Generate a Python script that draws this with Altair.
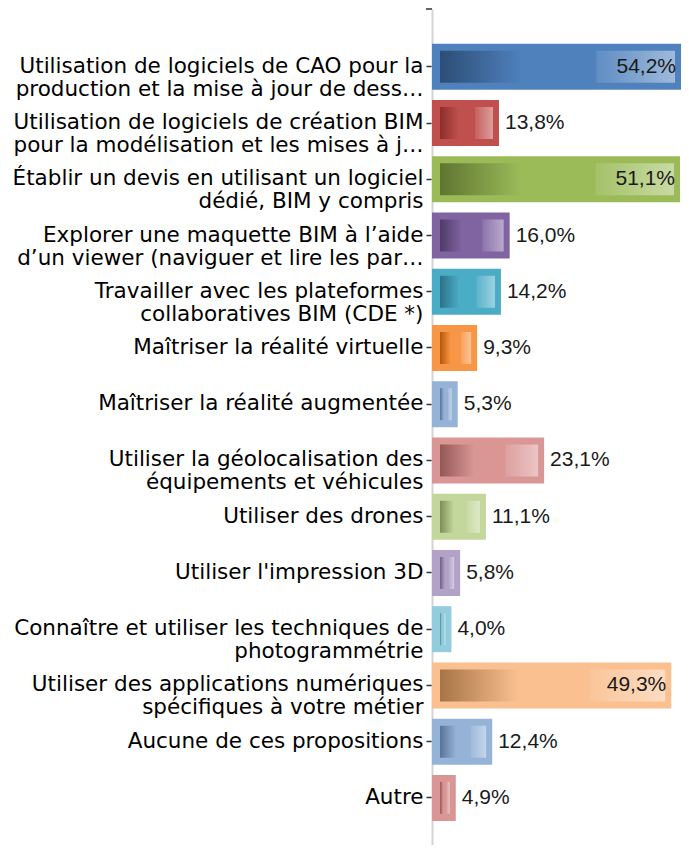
import altair as alt
import pandas as pd

categories = [
    "Utilisation de logiciels de CAO pour la|production et la mise à jour de dess…",
    "Utilisation de logiciels de création BIM|pour la modélisation et les mises à j…",
    "Établir un devis en utilisant un logiciel|dédié, BIM y compris",
    "Explorer une maquette BIM à l’aide|d’un viewer (naviguer et lire les par…",
    "Travailler avec les plateformes|collaboratives BIM (CDE *)",
    "Maîtriser la réalité virtuelle",
    "Maîtriser la réalité augmentée",
    "Utiliser la géolocalisation des|équipements et véhicules",
    "Utiliser des drones",
    "Utiliser l'impression 3D",
    "Connaître et utiliser les techniques de|photogrammétrie",
    "Utiliser des applications numériques|spécifiques à votre métier",
    "Aucune de ces propositions",
    "Autre",
]
values = [54.2, 13.8, 51.1, 16.0, 14.2, 9.3, 5.3, 23.1, 11.1, 5.8, 4.0, 49.3, 12.4, 4.9]
value_labels = ["54,2%", "13,8%", "51,1%", "16,0%", "14,2%", "9,3%", "5,3%",
                "23,1%", "11,1%", "5,8%", "4,0%", "49,3%", "12,4%", "4,9%"]

base_colors = ["#4F81BD", "#C0504D", "#9BBB59", "#8064A2", "#4BACC6", "#F79646", "#95B3D7",
               "#D99694", "#C3D69B", "#B3A2C7", "#93CDDD", "#FAC090", "#95B3D7", "#D99694"]
dark_colors = ["#2C4D75", "#8C2E2C", "#5F7530", "#4F3B68", "#2B7288", "#B65708", "#5A7398",
               "#935856", "#7D8F57", "#6F5F84", "#4F8A9C", "#A67446", "#5A7398", "#935856"]


def mix(hex_color, t):
    r, g, b = (int(hex_color[k:k + 2], 16) for k in (1, 3, 5))
    r, g, b = (round(v + (255 - v) * t) for v in (r, g, b))
    return "#%02X%02X%02X" % (r, g, b)


XMAX = 51.3
df = pd.DataFrame({"cat": categories, "val": values, "lab": value_labels, "zero": 0.0})
df["vis"] = df["val"].clip(upper=XMAX)
df["inside"] = df["val"] > 40

font = "Liberation Sans"
label_font = "DejaVu Sans"

y_enc = alt.Y(
    "cat:N", sort=categories, title=None,
    scale=alt.Scale(domain=categories, paddingInner=0.19, paddingOuter=0.528, align=0.59),
    axis=alt.Axis(
        labelExpr="split(datum.label, '|')", labelFont=label_font, labelFontSize=21.5,
        labelColor="#000000", labelLineHeight=23, labelLimit=420, labelPadding=3,
        tickSize=6, tickColor="#333333", tickWidth=1.5,
        domainColor="#d4d4d4", domainWidth=2, minExtent=424, maxExtent=424,
    ),
)
x_scale = alt.Scale(domain=[0, XMAX], nice=False, zero=True)

base = alt.Chart(df)

outer = base.mark_bar(clip=True, size=46).encode(
    x=alt.X("val:Q", scale=x_scale, axis=None),
    x2="zero:Q",
    y=y_enc,
    color=alt.Color("cat:N", scale=alt.Scale(domain=categories, range=base_colors), legend=None),
)

layers = [outer]
for i, c in enumerate(categories):
    grad = alt.Gradient(
        gradient="linear", x1=0, x2=1, y1=0, y2=0,
        stops=[
            alt.GradientStop(color=dark_colors[i], offset=0),
            alt.GradientStop(color=base_colors[i], offset=0.35),
            alt.GradientStop(color=base_colors[i], offset=0.66),
            alt.GradientStop(color=mix(base_colors[i], 0.1), offset=0.67),
            alt.GradientStop(color=mix(base_colors[i], 0.45), offset=1),
        ],
    )
    inner = base.transform_filter(alt.datum.cat == c).mark_bar(
        clip=True, size=32, color=grad, xOffset=-6, x2Offset=8
    ).encode(
        x=alt.X("vis:Q", scale=x_scale, axis=None),
        x2="zero:Q",
        y=y_enc,
    )
    layers.append(inner)

text_in = base.transform_filter("datum.inside").mark_text(
    align="right", baseline="middle", dx=-5, font=font, fontSize=21, color="#1a1a1a"
).encode(x=alt.X("vis:Q", scale=x_scale, axis=None), y=y_enc, text="lab:N")

text_out = base.transform_filter("!datum.inside").mark_text(
    align="left", baseline="middle", dx=6, font=font, fontSize=21, color="#1a1a1a"
).encode(x=alt.X("val:Q", scale=x_scale, axis=None), y=y_enc, text="lab:N")

top_tick = base.transform_filter(alt.datum.cat == categories[0]).mark_rule(
    color="#333333", strokeWidth=1.5
).encode(x=alt.value(-6), x2=alt.value(0), y=alt.value(0))

chart = alt.layer(*layers, text_in, text_out, top_tick).properties(
    width=249, height=836, padding=0
).configure_view(stroke=None)

chart.save("out.html", embed_options={"renderer": "svg", "actions": False})
